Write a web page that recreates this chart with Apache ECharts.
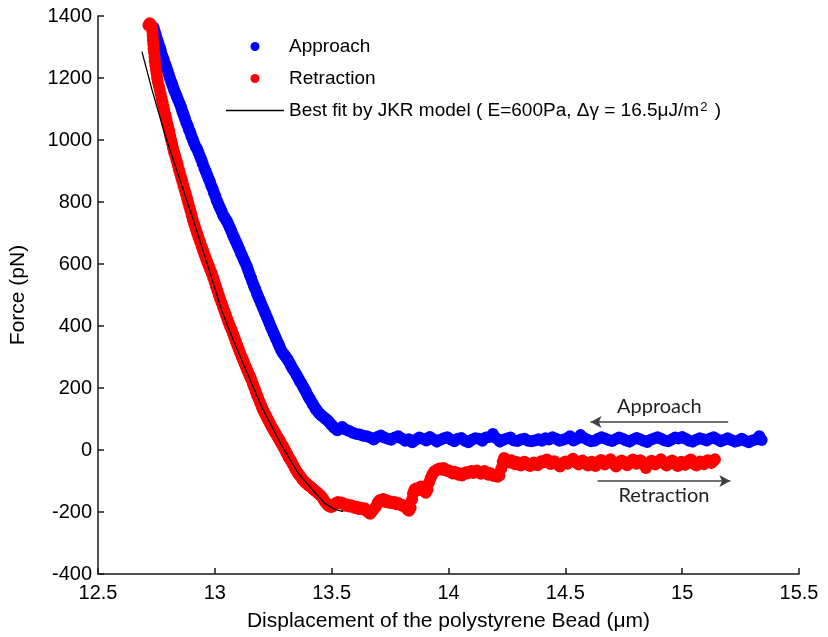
<!DOCTYPE html>
<html>
<head>
<meta charset="utf-8">
<script src="https://cdn.jsdelivr.net/npm/echarts@6/dist/echarts.min.js"></script>
<style>html,body{margin:0;padding:0;background:#fff;}#c{width:828px;height:637px;}</style>
</head>
<body>
<div id="c"></div>
<script>
// ---- Data ----
const approachX = [12.738,12.742,12.747,12.751,12.756,12.760,12.766,12.770,12.775,12.781,12.787,12.792,12.797,12.803,12.808,12.814,12.819,12.825,12.831,12.837,12.843,12.850,12.856,12.861,12.866,12.872,12.878,12.884,12.889,12.895,12.900,12.906,12.911,12.918,12.924,12.930,12.936,12.942,12.948,12.955,12.961,12.967,12.973,12.979,12.985,12.991,12.996,13.002,13.008,13.013,13.018,13.023,13.029,13.035,13.041,13.046,13.052,13.058,
13.064,13.070,13.076,13.082,13.088,13.094,13.100,13.106,13.112,13.118,13.124,13.130,13.137,13.143,13.149,13.155,13.161,13.167,13.173,13.180,13.186,13.192,13.198,13.204,13.210,13.216,13.222,13.228,13.234,13.240,13.246,13.252,13.258,13.264,13.271,13.277,13.283,13.290,13.296,13.302,13.308,13.314,13.320,13.326,13.332,13.339,13.345,13.351,13.358,13.364,13.371,
13.378,13.384,13.390,13.396,13.402,13.408,13.414,13.420,13.427,13.433,13.440,13.447,13.454,13.461,13.468,13.475,13.482,13.489,13.496,13.503,13.510,13.517,13.524,
13.530,13.545,13.560,13.575,13.590,13.605,13.620,13.635,13.650,13.665,13.680,13.695,13.710,13.725,13.740,13.755,13.770,13.785,13.800,13.815,13.830,13.845,13.860,13.875,13.890,13.905,13.920,13.935,13.950,13.965,13.980,13.995,14.010,14.025,14.040,14.055,14.070,14.085,14.100,14.115,14.130,14.145,14.160,14.175,14.190,14.205,14.220,14.235,14.250,14.265,14.280,14.295,14.310,14.325,14.340,14.355,14.370,14.385,14.400,14.415,14.430,14.445,14.460,14.475,14.490,14.505,14.520,14.535,14.550,14.565,14.580,14.595,14.610,14.625,14.640,14.655,14.670,14.685,14.700,14.715,14.730,14.745,14.760,14.775,14.790,14.805,14.820,14.835,14.850,14.865,14.880,14.895,14.910,14.925,14.940,14.955,14.970,14.985,15.000,15.015,15.030,15.045,15.060,15.075,15.090,15.105,15.120,15.135,15.150,15.165,15.180,15.195,15.210,15.225,15.240,15.255,15.270,15.285,15.300,15.315,15.330,15.340];
const approachY = [1362,1352,1340,1328,1318,1308,1296,1284,1272,1260,1246,1236,1224,1211,1199,1187,1176,1163,1152,1141,1129,1117,1106,1093,1082,1070,1056,1046,1034,1024,1012,1001,990,978,971,960,948,937,924,910,899,887,876,865,852,842,830,819,806,797,788,780,769,758,751,745,738,728,
718,707,696,686,676,666,656,645,635,624,614,604,592,580,566,555,542,530,519,506,494,484,473,462,452,441,430,419,408,397,387,377,366,356,344,334,323,314,308,302,296,289,281,272,264,256,248,240,231,222,214,
204,196,188,178,170,163,155,147,139,131,125,118,113,109,104,100,96,90,84,78,72,69,64,
66,74,66,61,56,52,50,46,44,40,34,42,47,40,36,33,40,44,37,30,35,25,33,40,36,31,42,35,27,33,38,41,34,28,36,39,30,25,33,38,36,30,40,42,52,38,27,33,37,40,31,29,34,36,30,28,31,35,30,38,34,41,36,30,33,37,44,31,36,48,39,33,28,30,36,41,37,32,29,35,40,36,31,27,34,39,35,30,26,33,37,41,36,31,28,34,40,37,42,36,30,27,33,38,35,31,37,41,35,28,33,38,32,27,30,36,30,25,31,34,44,32];

const retractX = [12.716,12.721,12.727,12.731,12.733,12.734,12.735,12.737,12.738,12.740,12.742,12.743,12.745,12.748,12.751,12.753,12.756,12.760,12.764,12.768,12.772,12.776,12.780,12.784,12.789,12.793,12.797,12.801,12.805,12.809,12.813,12.817,12.821,12.826,12.831,12.836,12.841,12.846,12.851,12.856,12.861,12.866,12.871,12.876,12.881,12.886,12.891,12.896,12.901,12.906,12.912,12.918,12.924,12.930,12.937,12.944,12.950,12.956,12.962,12.968,12.974,12.980,12.987,12.993,12.999,13.005,13.011,13.017,13.023,13.029,13.035,13.041,13.047,13.053,13.059,13.065,13.072,13.078,13.084,13.090,13.096,13.102,13.108,13.115,13.121,13.127,13.133,13.139,13.145,13.151,13.157,13.163,13.169,13.175,13.181,13.187,13.194,13.200,13.206,13.212,13.218,13.224,13.230,13.237,13.243,13.250,13.257,13.264,13.271,13.278,13.285,13.292,13.298,13.304,13.310,13.316,13.322,13.328,13.335,13.342,13.349,13.356,13.363,13.371,13.378,13.385,13.392,13.399,13.406,13.413,13.420,13.427,13.434,13.441,13.448,13.456,13.463,13.470,13.477,13.484,13.491,13.499,
13.506,13.513,13.520,13.527,13.535,13.543,13.551,13.559,13.567,13.575,13.584,13.592,13.600,13.608,13.616,13.624,13.632,13.641,13.649,13.657,13.665,13.673,13.681,13.689,13.697,13.705,13.713,13.721,13.729,13.737,13.745,13.753,13.761,13.769,13.777,13.785,13.793,13.801,13.809,13.817,13.824,13.831,13.838,13.844,13.848,13.854,13.861,13.868,13.875,13.882,13.889,13.896,13.903,13.910,13.917,13.924,13.931,13.938,13.946,13.954,13.962,13.970,13.978,13.986,13.994,14.002,14.010,14.018,14.026,14.034,14.042,14.050,14.058,14.066,14.074,14.082,14.090,14.098,14.106,14.114,14.122,14.130,14.138,14.146,14.154,14.162,14.170,14.178,14.186,14.194,14.202,14.210,14.218,14.226,14.232,14.238,14.245,14.253,14.261,14.269,14.277,14.285,14.293,14.301,14.309,14.317,14.325,14.333,14.341,14.349,14.357,14.365,14.373,14.381,14.389,14.397,14.405,14.413,14.421,14.429,14.437,14.445,14.453,14.461,14.469,14.477,14.485,14.493,14.501,14.509,14.517,14.525,14.533,14.541,14.549,14.557,14.565,14.573,14.581,14.589,14.597,14.605,14.613,14.621,14.629,14.637,14.645,14.653,14.661,14.669,14.677,14.685,14.693,14.701,14.709,14.717,14.725,14.733,14.741,14.749,14.757,14.765,14.773,14.781,14.789,14.797,14.805,14.813,14.821,14.829,14.837,14.845,14.853,14.861,14.869,14.877,14.885,14.893,14.901,14.909,14.917,14.925,14.933,14.941,14.949,14.957,14.965,14.973,14.981,14.989,14.997,15.005,15.013,15.021,15.029,15.037,15.045,15.053,15.061,15.069,15.077,15.085,15.093,15.101,15.109,15.117,15.125,15.133,15.140];
const retractY = [1370,1377,1372,1360,1348,1336,1322,1309,1296,1282,1268,1255,1242,1228,1215,1201,1188,1175,1162,1148,1135,1122,1108,1094,1080,1066,1052,1040,1028,1013,1000,988,974,960,948,934,920,906,893,879,866,852,839,826,812,798,784,771,757,742,728,714,700,686,671,656,643,630,618,606,594,582,570,556,542,528,514,500,487,474,461,448,436,423,411,399,387,374,362,350,338,326,314,301,290,279,268,257,246,236,226,213,201,189,177,165,152,140,131,121,112,103,94,84,75,66,57,48,39,30,20,11,3,-6,-14,-23,-30,-38,-48,-58,-67,-76,-82,-90,-98,-103,-108,-113,-117,-120,-126,-131,-135,-139,-144,-149,-157,-165,-172,-178,-182,-184,
-180,-175,-170,-168,-172,-169,-175,-180,-176,-182,-178,-184,-187,-183,-190,-186,-191,-188,-196,-202,-206,-198,-190,-183,-170,-162,-165,-158,-168,-163,-170,-166,-172,-168,-175,-171,-176,-180,-178,-184,-192,-196,-186,-160,-140,-128,-124,-130,-126,-118,-122,-132,-138,-128,-104,-90,-78,-70,-66,-62,-60,-64,-58,-62,-68,-66,-72,-76,-70,-74,-80,-76,-82,-78,-72,-75,-70,-68,-74,-70,-66,-72,-77,-73,-68,-75,-80,-74,-78,-84,-80,-86,-82,-60,-38,-26,-30,-36,-40,-33,-42,-46,-39,-44,-50,-45,-38,-43,-48,-52,-46,-40,-44,-49,-42,-36,-40,-34,-31,-38,-45,-41,-36,-42,-48,-53,-46,-40,-37,-44,-39,-33,-28,-35,-42,-47,-40,-34,-39,-45,-50,-44,-38,-46,-52,-41,-36,-32,-40,-47,-42,-36,-30,-38,-45,-53,-48,-40,-34,-38,-44,-49,-42,-36,-31,-37,-44,-40,-33,-38,-46,-58,-48,-40,-35,-41,-47,-42,-36,-30,-38,-44,-50,-45,-39,-34,-40,-47,-52,-44,-38,-42,-48,-40,-35,-31,-39,-45,-50,-43,-37,-41,-46,-39,-33,-37,-42,-36,-30];

const fitX = [12.688,12.730,12.787,12.850,12.908,12.970,13.029,13.070,13.115,13.200,13.285,13.357,13.420,13.470,13.513,13.549];
const fitY = [1285,1165,1016,873,742,594,452,370,290,140,16,-75,-130,-172,-191,-199];

const xTicks = {min: 12.5, max: 15.5, step: 0.5};
const yTicks = {min: -400, max: 1400, step: 200};

const nameApproach = 'Approach';
const nameRetraction = 'Retraction';
const nameFit = 'Best fit by JKR model ( E=600Pa, \u0394\u03b3 = 16.5\u03bcJ/m2 )';
const annotApproach = {text: 'Approach', from: [15.197, 90], to: [14.608, 90]};
const annotRetraction = {text: 'Retraction', from: [14.638, -100], to: [15.206, -100]};

// ---- Build ----
const zip = (xs, ys) => xs.map((x, i) => [x, ys[i]]);
const FONT = '"Liberation Sans", Arial, sans-serif';

const chart = echarts.init(document.getElementById('c'), null, {renderer: 'canvas'});
chart.setOption({
  animation: false,
  backgroundColor: '#fff',
  grid: {left: 96, right: 29, top: 16, bottom: 63, containLabel: false},
  legend: {
    orient: 'vertical', left: 226, top: 37, padding: 0,
    itemWidth: 58, itemHeight: 9, itemGap: 13,
    data: [
      {name: nameApproach},
      {name: nameRetraction},
      {name: nameFit, icon: 'path://M0,0 L58,0 L58,1.3 L0,1.3 Z', itemStyle: {color: '#000'}}
    ],
    textStyle: {
      fontFamily: FONT, fontSize: 19, color: '#000',
      rich: {
        t: {fontFamily: FONT, fontSize: 19, color: '#000'},
        sup: {fontFamily: FONT, fontSize: 13, color: '#000', verticalAlign: 'top', padding: [0, 2, 0, 1]}
      }
    },
    formatter: function (name) {
      if (name === nameFit) {
        return '{t|' + name.slice(0, name.length - 3) + '}{sup|2}{t| )}';
      }
      return '{t|' + name + '}';
    },
    selectedMode: false
  },
  xAxis: {
    type: 'value', min: xTicks.min, max: xTicks.max, interval: xTicks.step,
    name: 'Displacement of the polystyrene Bead (\u03bcm)',
    nameLocation: 'middle', nameGap: 37,
    nameTextStyle: {fontFamily: FONT, fontSize: 21, color: '#000'},
    axisLine: {onZero: false, lineStyle: {color: '#1a1a1a', width: 1.5}},
    axisTick: {inside: true, length: 6, lineStyle: {color: '#1a1a1a', width: 1.5}},
    axisLabel: {fontFamily: FONT, fontSize: 20, color: '#000', margin: 9,
                formatter: function (v) { return String(v); }},
    splitLine: {show: false}
  },
  yAxis: {
    type: 'value', min: yTicks.min, max: yTicks.max, interval: yTicks.step,
    name: 'Force (pN)',
    nameLocation: 'middle', nameGap: 69,
    nameTextStyle: {fontFamily: FONT, fontSize: 21, color: '#000'},
    axisLine: {show: true, onZero: false, lineStyle: {color: '#1a1a1a', width: 1.5}},
    axisTick: {show: true, inside: true, length: 6, lineStyle: {color: '#1a1a1a', width: 1.5}},
    axisLabel: {fontFamily: FONT, fontSize: 20, color: '#000', margin: 6,
                formatter: function (v) { return String(v); }},
    splitLine: {show: false}
  },
  series: [
    {
      name: nameApproach, type: 'scatter', symbol: 'circle', symbolSize: 12,
      itemStyle: {color: '#0000ff', opacity: 1},
      data: zip(approachX, approachY), z: 2,
      markLine: {
        silent: true, symbol: ['none', 'arrow'], symbolSize: [9, 11],
        lineStyle: {color: '#404040', width: 1.5, type: 'solid'},
        label: {show: true, position: 'insideMiddleTop', distance: 6, formatter: annotApproach.text,
                fontFamily: 'Lato, "Open Sans", sans-serif', fontSize: 20, color: '#222'},
        data: [[{coord: annotApproach.from}, {coord: annotApproach.to}]]
      }
    },
    {
      name: nameRetraction, type: 'scatter', symbol: 'circle', symbolSize: 12,
      itemStyle: {color: '#ff0000', opacity: 1},
      data: zip(retractX, retractY), z: 3,
      markLine: {
        silent: true, symbol: ['none', 'arrow'], symbolSize: [9, 11],
        lineStyle: {color: '#404040', width: 1.5, type: 'solid'},
        label: {show: true, position: 'insideMiddleBottom', distance: 5, formatter: annotRetraction.text,
                fontFamily: 'Lato, "Open Sans", sans-serif', fontSize: 20, color: '#222'},
        data: [[{coord: annotRetraction.from}, {coord: annotRetraction.to}]]
      }
    },
    {
      name: nameFit, type: 'line', symbol: 'none', showSymbol: false,
      lineStyle: {color: '#000', width: 1.3},
      itemStyle: {color: '#000'},
      data: zip(fitX, fitY), z: 4
    }
  ]
});
</script>
</body>
</html>
